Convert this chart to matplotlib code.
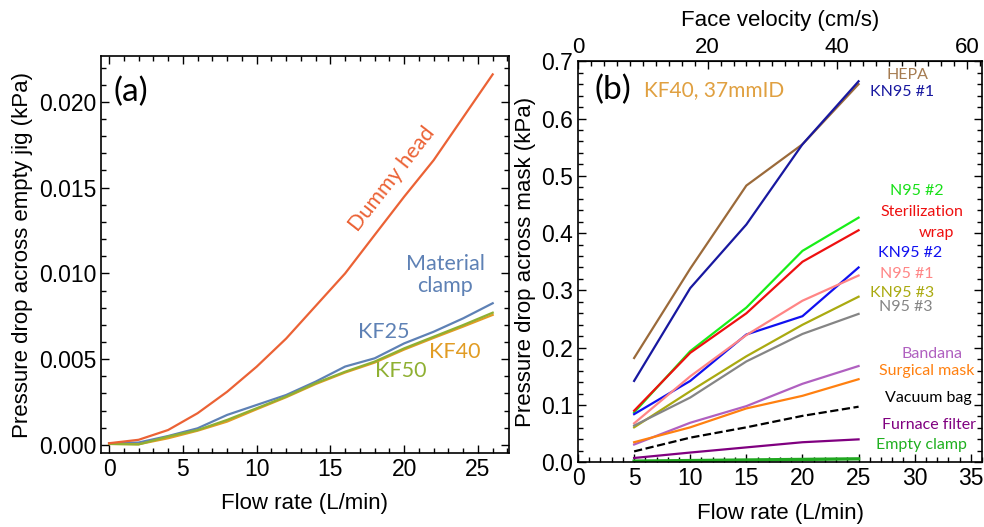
import matplotlib
matplotlib.use("Agg")
import matplotlib.pyplot as plt
from matplotlib.ticker import MultipleLocator

plt.rcParams['font.family'] = ['Liberation Sans', 'DejaVu Sans']
LABEL_FONT = ['Lato', 'DejaVu Sans']

# ---- panel (a): pressure drop across empty jig ----
flow_a = [0, 2, 4, 6, 8, 10, 12, 14, 16, 18, 20, 22, 24, 26]
dummy_head = [0.0001, 0.0003, 0.00087, 0.00185, 0.0031, 0.00456, 0.0062,
              0.0081, 0.0100, 0.01224, 0.01447, 0.0166, 0.0191, 0.0216]
material_clamp = [0.0001, 0.00014, 0.00052, 0.00097, 0.00175, 0.00233, 0.00291,
                  0.00369, 0.00457, 0.00505, 0.00592, 0.0066, 0.00738, 0.00826]
kf40 = [0.00006, 0.00004, 0.00039, 0.00083, 0.00136, 0.00208, 0.00278,
        0.00355, 0.00422, 0.00480, 0.00556, 0.00624, 0.00690, 0.00758]
kf50 = [0.00006, 0.00003, 0.00049, 0.00087, 0.00146, 0.00214, 0.00282,
        0.0036, 0.00427, 0.00486, 0.00563, 0.00631, 0.00699, 0.00771]

# ---- panel (b): pressure drop across mask ----
flow_b = [5, 10, 15, 20, 25]
masks = ["HEPA", "KN95 #1", "N95 #2", "Sterilization wrap", "KN95 #2", "N95 #1",
         "KN95 #3", "N95 #3", "Bandana", "Surgical mask", "Vacuum bag",
         "Furnace filter", "Empty clamp"]
mask_dp = [
    [0.182, 0.338, 0.483, 0.555, 0.660],   # HEPA
    [0.142, 0.304, 0.415, 0.555, 0.665],   # KN95 #1
    [0.087, 0.194, 0.270, 0.369, 0.427],   # N95 #2
    [0.090, 0.191, 0.260, 0.350, 0.405],   # Sterilization wrap
    [0.084, 0.142, 0.223, 0.255, 0.340],   # KN95 #2
    [0.068, 0.150, 0.222, 0.282, 0.326],   # N95 #1
    [0.061, 0.124, 0.185, 0.240, 0.289],   # KN95 #3
    [0.064, 0.113, 0.176, 0.224, 0.259],   # N95 #3
    [0.031, 0.069, 0.098, 0.137, 0.168],   # Bandana
    [0.035, 0.061, 0.094, 0.116, 0.145],   # Surgical mask
    [0.019, 0.043, 0.061, 0.081, 0.097],   # Vacuum bag
    [0.0075, 0.017, 0.026, 0.035, 0.040],  # Furnace filter
    [0.002, 0.003, 0.004, 0.005, 0.006],   # Empty clamp
]
mask_colors = ["#9B6A3A", "#1818A0", "#18EE18", "#EE1010", "#1010F0", "#FF8585",
               "#AAAA10", "#858585", "#B060C0", "#FF8010", "#000000",
               "#800080", "#20A820"]
label_colors = ["#A57B50", "#1818A0", "#18E018", "#EE1010", "#1010F0", "#FF8585",
                "#AAAA10", "#858585", "#B060C0", "#FF8010", "#000000",
                "#800080", "#20B020"]
label_text = ["HEPA", "KN95 #1", "N95 #2", "Sterilization", "KN95 #2", "N95 #1",
              "KN95 #3", "N95 #3", "Bandana", "Surgical mask", "Vacuum bag",
              "Furnace filter", "Empty clamp"]
label_y = [0.676, 0.646, 0.474, 0.436, 0.365, 0.328, 0.296, 0.271, 0.1885,
           0.160, 0.112, 0.065, 0.031]
label_x = [29.4, 28.9, 30.2, 30.6, 29.6, 29.3, 28.9, 29.2, 31.5, 31.1, 31.2, 31.3, 30.6]

VEL_PER_FLOW = 1.732  # cm/s per L/min through 37 mm ID

fig = plt.figure(figsize=(9.84, 5.27), dpi=100)

def style_frame(ax):
    ax.tick_params(which='both', direction='in', top=True, right=True,
                   labelsize=16.5, width=1)
    ax.tick_params(which='major', length=6)
    ax.tick_params(which='minor', length=3.5)
    for s in ax.spines.values():
        s.set_linewidth(1.2)

# panel (a)
ax1 = fig.add_axes([0.1026, 0.1404, 0.4146, 0.7533])
ax1.plot(flow_a, material_clamp, color="#5E81B5", lw=1.6)
ax1.plot(flow_a, kf40, color="#E19C24", lw=1.6)
ax1.plot(flow_a, kf50, color="#8FB032", lw=1.6)
ax1.plot(flow_a, dummy_head, color="#EB6235", lw=1.6)
ax1.set_xlim(-0.55, 27.1)
ax1.set_ylim(-0.00047, 0.02267)
ax1.xaxis.set_major_locator(MultipleLocator(5))
ax1.xaxis.set_minor_locator(MultipleLocator(1))
ax1.yaxis.set_major_locator(MultipleLocator(0.005))
ax1.yaxis.set_minor_locator(MultipleLocator(0.001))
ax1.yaxis.set_major_formatter(matplotlib.ticker.FormatStrFormatter('%.3f'))
style_frame(ax1)
ax1.set_xlabel("Flow rate (L/min)", fontsize=16, labelpad=9)
ax1.set_ylabel("Pressure drop across empty jig (kPa)", fontsize=16, labelpad=4)
ax1.text(0.073, 0.91, "(a)", transform=ax1.transAxes, fontsize=24,
         ha='center', va='center', family=LABEL_FONT)
ax1.text(19.2, 0.0155, "Dummy head", color="#EB6235", fontsize=15.5, rotation=52,
         ha='center', va='center', family=LABEL_FONT)
ax1.text(22.8, 0.0099, "Material\nclamp", color="#5E81B5", fontsize=15.5,
         ha='center', va='center', linespacing=1.15, family=LABEL_FONT)
ax1.text(18.6, 0.0066, "KF25", color="#5E81B5", fontsize=15.5,
         ha='center', va='center', family=LABEL_FONT)
ax1.text(23.4, 0.0054, "KF40", color="#E19C24", fontsize=15.5,
         ha='center', va='center', family=LABEL_FONT)
ax1.text(19.8, 0.0043, "KF50", color="#8FB032", fontsize=15.5,
         ha='center', va='center', family=LABEL_FONT)

# panel (b)
ax2 = fig.add_axes([0.5874, 0.1228, 0.4106, 0.761])
for name, vals, c in zip(masks, mask_dp, mask_colors):
    ls = '--' if name == "Vacuum bag" else '-'
    lw = 2.4 if name == "Empty clamp" else 1.6
    ax2.plot(flow_b, vals, color=c, lw=lw, ls=ls)
ax2.set_xlim(0, 36)
ax2.set_ylim(0, 0.7)
ax2.xaxis.set_major_locator(MultipleLocator(5))
ax2.xaxis.set_minor_locator(MultipleLocator(1))
ax2.yaxis.set_major_locator(MultipleLocator(0.1))
ax2.yaxis.set_minor_locator(MultipleLocator(0.02))
ax2.yaxis.set_major_formatter(matplotlib.ticker.FormatStrFormatter('%.1f'))
style_frame(ax2)
ax2.tick_params(which='both', top=False)
ax2.set_xlabel("Flow rate (L/min)", fontsize=16, labelpad=9)
ax2.set_ylabel("Pressure drop across mask (kPa)", fontsize=16, labelpad=4)

top = ax2.secondary_xaxis('top', functions=(lambda q: q * VEL_PER_FLOW,
                                            lambda v: v / VEL_PER_FLOW))
top.xaxis.set_major_locator(MultipleLocator(20))
top.xaxis.set_minor_locator(MultipleLocator(2))
top.tick_params(which='both', direction='in', labelsize=16, width=1, pad=2)
top.tick_params(which='major', length=6)
top.tick_params(which='minor', length=3.5)
top.set_xlabel("Face velocity (cm/s)", fontsize=16, labelpad=8)

ax2.text(3.15, 0.65, "(b)", fontsize=24, ha='center', va='center',
         family=LABEL_FONT)
ax2.text(12.1, 0.65, "KF40, 37mmID", color="#E0A040", fontsize=15,
         ha='center', va='center', family=LABEL_FONT)
for t, x, y, c in zip(label_text, label_x, label_y, label_colors):
    ax2.text(x, y, t, color=c, fontsize=11.5, ha='center', va='center',
             family=LABEL_FONT)
ax2.text(31.9, 0.400, "wrap", color=label_colors[3], fontsize=11.5,
         ha='center', va='center', family=LABEL_FONT)

fig.savefig("out.png", dpi=100)
